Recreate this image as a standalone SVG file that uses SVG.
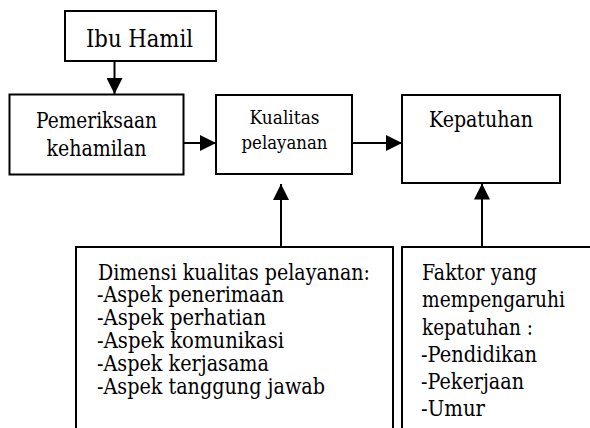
<svg xmlns="http://www.w3.org/2000/svg" width="590" height="428" viewBox="0 0 590 428">
<style>
.box{fill:#fff;stroke:#000;stroke-width:2}
.c{text-anchor:middle}
.edge{stroke:#000;stroke-width:2;fill:none}
text{font-family:"DejaVu Serif",serif;fill:#000;font-size:22px}
.big{font-size:24px}
.sm{font-size:19px}
</style>
<defs>
<marker id="arr" markerUnits="userSpaceOnUse" markerWidth="16" markerHeight="16" viewBox="0 0 15 15" refX="15" refY="7.5" orient="auto">
<path d="M0,0 L15,7.5 L0,15 Z" fill="#000"/>
</marker>
</defs>
<g id="connectors">
<line class="edge" x1="114.5" y1="61" x2="114.5" y2="94" marker-end="url(#arr)"/>
<line class="edge" x1="183" y1="143" x2="216" y2="143" marker-end="url(#arr)"/>
<line class="edge" x1="352" y1="143" x2="402" y2="143" marker-end="url(#arr)"/>
<line class="edge" x1="281" y1="247" x2="281" y2="184" marker-end="url(#arr)"/>
<line class="edge" x1="482" y1="247" x2="482" y2="183.5" marker-end="url(#arr)"/>
</g>
<g id="ibu-hamil">
<rect class="box" x="65" y="11" width="151" height="50"/>
<text class="c big" x="139.5" y="47" textLength="107" lengthAdjust="spacingAndGlyphs">Ibu Hamil</text>
</g>
<g id="pemeriksaan">
<rect class="box" x="9.5" y="94.5" width="174" height="80"/>
<text class="c" x="96.5" y="128" textLength="121" lengthAdjust="spacingAndGlyphs">Pemeriksaan</text>
<text class="c" x="96.5" y="156" textLength="100" lengthAdjust="spacingAndGlyphs">kehamilan</text>
</g>
<g id="kualitas">
<rect class="box" x="216" y="95" width="136" height="79"/>
<text class="c sm" x="284.5" y="124" textLength="70" lengthAdjust="spacingAndGlyphs">Kualitas</text>
<text class="c sm" x="284.5" y="149" textLength="86" lengthAdjust="spacingAndGlyphs">pelayanan</text>
</g>
<g id="kepatuhan">
<rect class="box" x="402" y="95" width="158" height="88"/>
<text class="c" x="481" y="127" textLength="104" lengthAdjust="spacingAndGlyphs">Kepatuhan</text>
</g>
<g id="dimensi">
<rect class="box" x="76" y="247" width="317" height="200"/>
<text x="98" y="279.5" textLength="272" lengthAdjust="spacingAndGlyphs">Dimensi kualitas pelayanan:</text>
<text x="97" y="302" textLength="187" lengthAdjust="spacingAndGlyphs">-Aspek penerimaan</text>
<text x="97" y="325" textLength="169" lengthAdjust="spacingAndGlyphs">-Aspek perhatian</text>
<text x="97" y="348" textLength="187" lengthAdjust="spacingAndGlyphs">-Aspek komunikasi</text>
<text x="97" y="371" textLength="172" lengthAdjust="spacingAndGlyphs">-Aspek kerjasama</text>
<text x="97" y="393.5" textLength="228" lengthAdjust="spacingAndGlyphs">-Aspek tanggung jawab</text>
</g>
<g id="faktor">
<rect class="box" x="402" y="247" width="200" height="200"/>
<text x="422" y="280" textLength="115" lengthAdjust="spacingAndGlyphs">Faktor yang</text>
<text x="422" y="307" textLength="143" lengthAdjust="spacingAndGlyphs">mempengaruhi</text>
<text x="422" y="335" textLength="111" lengthAdjust="spacingAndGlyphs">kepatuhan :</text>
<text x="421" y="362" textLength="116" lengthAdjust="spacingAndGlyphs">-Pendidikan</text>
<text x="421" y="389" textLength="103" lengthAdjust="spacingAndGlyphs">-Pekerjaan</text>
<text x="421" y="416" textLength="64" lengthAdjust="spacingAndGlyphs">-Umur</text>
</g>
</svg>
